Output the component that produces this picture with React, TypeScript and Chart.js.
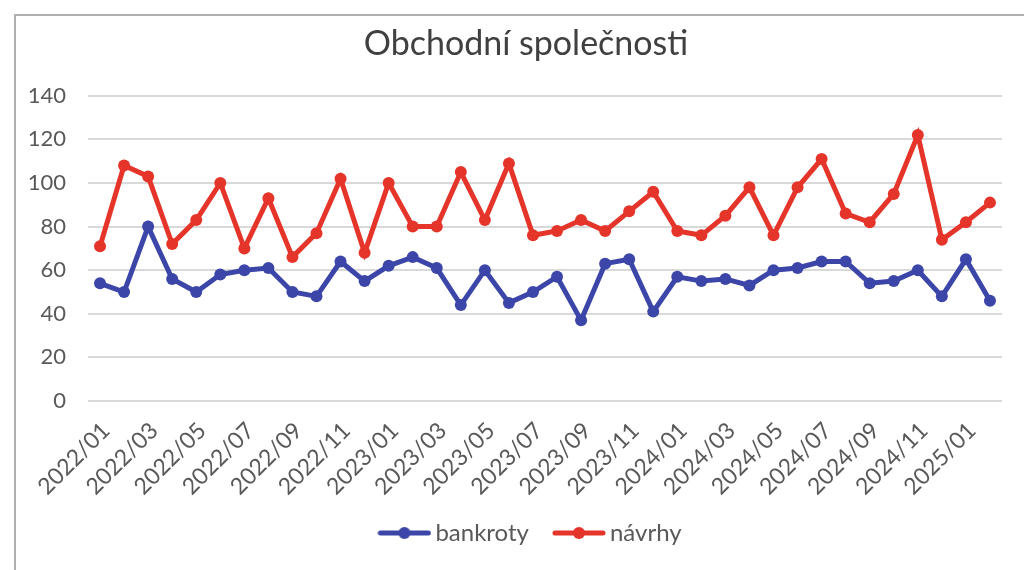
import React, { useEffect, useRef } from "react";
import { Chart, registerables } from "chart.js";

Chart.register(...registerables);

const months = [
  "2022/01", "2022/02", "2022/03", "2022/04", "2022/05", "2022/06", "2022/07", "2022/08", "2022/09", "2022/10", "2022/11", "2022/12",
  "2023/01", "2023/02", "2023/03", "2023/04", "2023/05", "2023/06", "2023/07", "2023/08", "2023/09", "2023/10", "2023/11", "2023/12",
  "2024/01", "2024/02", "2024/03", "2024/04", "2024/05", "2024/06", "2024/07", "2024/08", "2024/09", "2024/10", "2024/11", "2024/12",
  "2025/01", "2025/02",
];

const bankroty = [
  54, 50, 80, 56, 50, 58, 60, 61, 50, 48, 64, 55,
  62, 66, 61, 44, 60, 45, 50, 57, 37, 63, 65, 41,
  57, 55, 56, 53, 60, 61, 64, 64, 54, 55, 60, 48,
  65, 46,
];

const navrhy = [
  71, 108, 103, 72, 83, 100, 70, 93, 66, 77, 102, 68,
  100, 80, 80, 105, 83, 109, 76, 78, 83, 78, 87, 96,
  78, 76, 85, 98, 76, 98, 111, 86, 82, 95, 122, 74,
  82, 91,
];

const yTicks = [0, 20, 40, 60, 80, 100, 120, 140];

const BLUE = "#3b46a8";
const RED = "#e5352a";
const FONT = "Lato, 'Open Sans', sans-serif";
const TEXT = "#595959";

function legendMarker(color: string): HTMLCanvasElement {
  const c = document.createElement("canvas");
  c.width = 54;
  c.height = 14;
  const ctx = c.getContext("2d")!;
  ctx.strokeStyle = color;
  ctx.lineWidth = 5;
  ctx.lineCap = "round";
  ctx.beginPath();
  ctx.moveTo(3, 7);
  ctx.lineTo(51, 7);
  ctx.stroke();
  ctx.fillStyle = color;
  ctx.beginPath();
  ctx.arc(27, 7, 6, 0, Math.PI * 2);
  ctx.fill();
  return c;
}

const centerBlocks = {
  id: "centerBlocks",
  afterLayout(chart: any) {
    if (chart.titleBlock) chart.titleBlock.left = 50;
    if (chart.legend) chart.legend.left = 65;
    if (chart.scales && chart.scales.x) chart.scales.x.bottom = 530;
  },
};

export default function App() {
  const ref = useRef<HTMLCanvasElement | null>(null);

  useEffect(() => {
    if (!ref.current) return;
    const markers = [legendMarker(BLUE), legendMarker(RED)];
    const chart = new Chart(ref.current, {
      type: "line",
      data: {
        labels: months,
        datasets: [
          {
            label: "bankroty",
            data: bankroty,
            borderColor: BLUE,
            backgroundColor: BLUE,
            borderWidth: 5,
            pointRadius: 6,
            pointBorderWidth: 0,
            pointBackgroundColor: BLUE,
            tension: 0,
          },
          {
            label: "návrhy",
            data: navrhy,
            borderColor: RED,
            backgroundColor: RED,
            borderWidth: 5,
            pointRadius: 6,
            pointBorderWidth: 0,
            pointBackgroundColor: RED,
            tension: 0,
          },
        ],
      },
      plugins: [centerBlocks],
      options: {
        responsive: false,
        animation: false,
        layout: { padding: { left: 20, right: 22, top: 0, bottom: 15 } },
        plugins: {
          title: {
            display: true,
            text: "Obchodní společnosti",
            color: "#404040",
            font: { family: FONT, size: 34, weight: "normal" },
            padding: { top: 24, bottom: 31 },
          },
          legend: {
            position: "bottom",
            labels: {
              usePointStyle: true,
              pointStyleWidth: 38,
              padding: 31,
              color: TEXT,
              font: { family: FONT, size: 24 },
              generateLabels: (ch: any) => {
                const base = Chart.defaults.plugins.legend.labels.generateLabels(ch);
                return base.map((l: any, i: number) => ({ ...l, pointStyle: markers[i] }));
              },
            },
          },
          tooltip: { enabled: false },
        },
        scales: {
          x: {
            type: "category",
            offset: true,
            grid: { display: false, drawTicks: false },
            border: { display: false },
            ticks: {
              autoSkip: false,
              maxRotation: 45,
              minRotation: 45,
              padding: 16,
              labelOffset: 6,
              color: TEXT,
              font: { family: FONT, size: 23 },
              callback: function (_v: any, i: number) {
                return i % 2 === 0 ? months[i] : "";
              },
            },
            afterFit: (s: any) => {
              s.height = 89;
              s.paddingLeft = 0;
              s.paddingRight = 0;
            },
          },
          y: {
            min: 0,
            max: 140,
            afterBuildTicks: (s: any) => {
              s.ticks = yTicks.map((v) => ({ value: v }));
            },
            grid: { color: "#d9d9d9", lineWidth: 2, drawTicks: false },
            border: { display: false },
            ticks: {
              padding: 22,
              color: TEXT,
              font: { family: FONT, size: 22 },
            },
            afterFit: (s: any) => {
              s.width = 68;
            },
          },
        },
      },
    });
    return () => chart.destroy();
  }, []);

  return (
    <div style={{ position: "fixed", left: 0, top: 0, width: 1024, height: 570, background: "#fff", overflow: "hidden" }}>
      <div
        style={{
          position: "absolute",
          left: 14,
          top: 14,
          width: 1100,
          height: 700,
          borderTop: "2px solid #b0b0b0",
          borderLeft: "2px solid #b0b0b0",
        }}
      />
      <canvas ref={ref} width={1024} height={570} style={{ position: "absolute", left: 0, top: 0 }} />
    </div>
  );
}
